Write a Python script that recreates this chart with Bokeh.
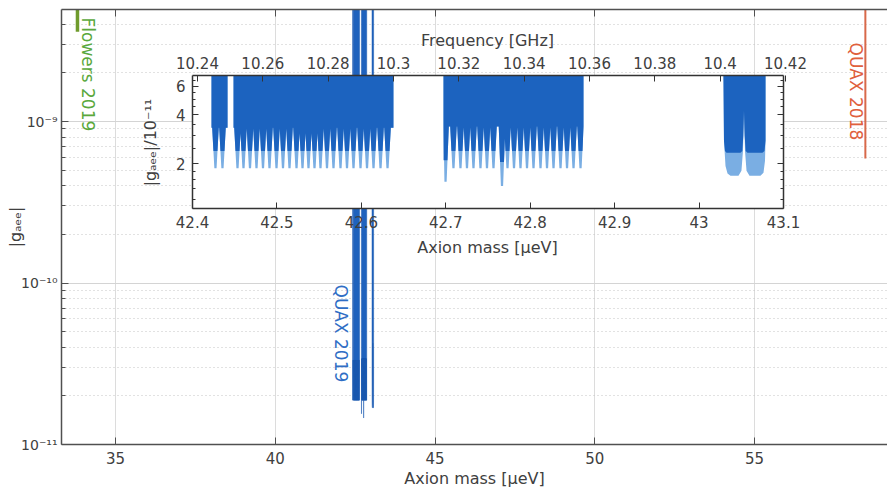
import math
from bokeh.plotting import figure
from bokeh.models import (Range1d, LinearScale, LogScale, LinearAxis, FixedTicker,
                          CustomJSTickFormatter, CustomLabelingPolicy, Label)
from bokeh.embed import file_html
from bokeh.resources import INLINE

# ------------------------------------------------------------------ data
x_ticks = [35, 40, 45, 50, 55]
y_ticks = [1e-11, 1e-10, 1e-9]
y_minor = [k * 10.0 ** e for e in (-11, -10, -9) for k in range(2, 10)]

inset_mass_ticks = [42.4, 42.5, 42.6, 42.7, 42.8, 42.9, 43.0, 43.1]
inset_freq_ticks = [10.24, 10.26, 10.28, 10.30, 10.32, 10.34, 10.36, 10.38, 10.40, 10.42]
inset_g_ticks = [2, 4, 6]
inset_g_minor = [1.2, 1.4, 1.6, 1.8, 2.5, 3, 3.5, 4.5, 5, 5.5, 6.5]
inset_mass_lim = (42.4, 43.1)
inset_g_lim = (1.06, 7.0)          # |g_aee| / 1e-11

flowers_mass = [33.81]
flowers_g = [3.6e-9]
quax18_mass = [58.47]
quax18_g = [5.9e-10]

# QUAX 2019 exclusion (|g_aee| in units of 1e-11), resonant bands A, B, C
band_lo = [42.4225, 42.4486, 42.6973]
band_hi = [42.4415, 42.6380, 42.8631]
band_plateau = [3.33, 3.33, 3.40]
spikes = [
    [42.4272, 42.4355],
    [42.4533, 42.4604, 42.4681, 42.4758, 42.4835, 42.4912, 42.4995, 42.5072,
     42.5149, 42.5232, 42.5303, 42.5374, 42.5445, 42.5516, 42.5593, 42.5670,
     42.5753, 42.5830, 42.5907, 42.5990, 42.6067, 42.6144, 42.6227, 42.6310],
    [42.6997, 42.7091, 42.7174, 42.7251, 42.7328, 42.7411, 42.7488, 42.7565,
     42.7666, 42.7731, 42.7808, 42.7885, 42.7962, 42.8039, 42.8122, 42.8199,
     42.8276, 42.8359, 42.8436, 42.8513, 42.8596],
]
spike_light = [
    [1.88, 1.88],
    [1.88, 1.88, 1.88, 1.88, 1.88, 1.88, 1.88, 1.88, 1.88, 1.88, 1.88, 1.88,
     1.88, 1.88, 1.88, 1.88, 1.88, 1.88, 1.88, 1.88, 1.88, 1.88, 1.88, 1.88],
    [1.55, 1.88, 1.88, 1.88, 1.88, 1.88, 1.88, 1.88, 1.46, 1.88, 1.88, 1.88,
     1.88, 1.88, 1.88, 1.88, 1.88, 1.88, 1.88, 1.88, 1.88],
]
spike_dark = [
    [2.40, 2.40],
    [2.40, 2.40, 2.40, 2.40, 2.40, 2.40, 2.40, 2.40, 2.40, 2.40, 2.40, 2.40,
     2.40, 2.40, 2.40, 2.40, 2.40, 2.40, 2.40, 2.40, 2.40, 2.40, 2.40, 2.40],
    [2.10, 2.40, 2.40, 2.40, 2.40, 2.40, 2.40, 2.40, 2.05, 2.40, 2.40, 2.40,
     2.40, 2.40, 2.40, 2.40, 2.40, 2.40, 2.40, 2.40, 2.40],
]
# band D (broad double dip)
bandD_mass_light = [43.0289, 43.0295, 43.0313, 43.0337, 43.0372, 43.0467, 43.0502, 43.0520,
                    43.0532, 43.0544, 43.0562, 43.0597, 43.0727, 43.0763, 43.0781, 43.0787]
bandD_g_light = [6.9, 2.77, 1.94, 1.74, 1.69, 1.69, 1.81, 2.40,
                 4.24, 2.40, 1.81, 1.69, 1.69, 1.76, 2.09, 2.77]
bandD_mass_dark = [43.0289, 43.0295, 43.0307, 43.0325, 43.0491, 43.0512, 43.0524, 43.0532,
                   43.0540, 43.0552, 43.0573, 43.0751, 43.0775, 43.0787]
bandD_g_dark = [6.9, 2.77, 2.40, 2.34, 2.34, 2.40, 2.98, 4.24,
                2.98, 2.40, 2.34, 2.34, 2.40, 2.77]

# ------------------------------------------------------------------ layout / styling
FONT = "DejaVu Sans"
TXT = "#404040"
AXC = "#505050"
DARK = "#1c63bf"
LIGHT = "#7aaee3"

W_PX, H_PX = 887, 492
FL, FR, FT, FB = 61, 887, 9, 444          # frame edges (px)
IL, IR, IT, IB = 192, 783, 75, 208        # inset frame edges (px)

# main axes calibration
x_per = (754 - 115) / (55 - 35)
x0 = 35 - (115 - FL) / x_per
x1 = 35 + (FR - 115) / x_per
y_per = (FB - 121) / 2.0
y0 = 1e-11
y1 = 1e-9 * 10 ** ((121 - FT) / y_per)

# inset axes calibration
m_per = (IR - IL) / (inset_mass_lim[1] - inset_mass_lim[0])
ix0 = inset_mass_lim[0] - (IL - FL) / m_per
ix1 = inset_mass_lim[0] + (FR - IL) / m_per
g_per = (IB - IT) / math.log10(inset_g_lim[1] / inset_g_lim[0])
iy0 = inset_g_lim[0] / 10 ** ((FB - IB) / g_per)
iy1 = inset_g_lim[1] * 10 ** ((IT - FT) / g_per)
f_per = (785 - 197) / (10.42 - 10.24)
fx0 = 10.24 - (197 - FL) / f_per
fx1 = 10.24 + (FR - 197) / f_per
f_bounds = (10.24 - (197 - IL) / f_per, 10.24 + (IR - 197) / f_per)


def mx(px):
    return x0 + (px - FL) / x_per


def my(py):
    return 10 ** (-11 + (FB - py) / y_per)


def ixp(px):
    return ix0 + (px - FL) / m_per


def iyp(py):
    return iy0 * 10 ** ((FB - py) / g_per)


p = figure(width=W_PX, height=H_PX, x_range=Range1d(x0, x1), y_range=Range1d(y0, y1),
           y_axis_type="log", output_backend="svg", toolbar_location=None,
           min_border_left=FL, min_border_right=W_PX - FR, min_border_top=FT,
           min_border_bottom=H_PX - FB, outline_line_color=None,
           background_fill_color="white", border_fill_color="white")

p.extra_x_ranges = {"ix": Range1d(ix0, ix1), "fx": Range1d(fx0, fx1)}
p.extra_x_scales = {"ix": LinearScale(), "fx": LinearScale()}
p.extra_y_ranges = {"iy": Range1d(iy0, iy1)}
p.extra_y_scales = {"iy": LogScale()}

no_labels = CustomLabelingPolicy(code="""
for (const i of indices) { indices.unset(i) }
return indices
""")

# main axes
xt = FixedTicker(ticks=x_ticks)
yt = FixedTicker(ticks=y_ticks, minor_ticks=[v for v in y_minor if v < y1])
sup_fmt = CustomJSTickFormatter(code="""
const sup = {"-":"\u207b","0":"\u2070","1":"\u00b9","2":"\u00b2","3":"\u00b3","4":"\u2074",
             "5":"\u2075","6":"\u2076","7":"\u2077","8":"\u2078","9":"\u2079"};
const e = Math.round(Math.log10(tick));
return "10" + String(e).split("").map(c => sup[c]).join("");
""")

for ax in list(p.xaxis) + list(p.yaxis):
    ax.major_label_text_font = FONT
    ax.major_label_text_color = TXT
    ax.axis_line_color = AXC
    ax.axis_line_width = 1.5
    ax.major_tick_line_color = AXC
    ax.minor_tick_line_color = AXC
    ax.major_tick_in = 7
    ax.major_tick_out = 0
    ax.minor_tick_in = 4
    ax.minor_tick_out = 0
    ax.axis_label_text_font = FONT
    ax.axis_label_text_font_size = "16px"
    ax.axis_label_text_font_style = "normal"
    ax.axis_label_text_color = TXT
    ax.axis_label_standoff = 2
for ax in p.xaxis:
    ax.ticker = xt
    ax.axis_label = "Axion mass [\u03bceV]"
    ax.major_label_text_font_size = "15px"
    ax.major_label_standoff = 7
for ax in p.yaxis:
    ax.ticker = yt
    ax.formatter = sup_fmt
    ax.axis_label = "|g\u2090\u2091\u2091|"
    ax.major_label_text_font_size = "14px"
    ax.major_label_standoff = 4
    ax.axis_label_standoff = -7

top_ax = LinearAxis(ticker=FixedTicker(ticks=x_ticks), major_label_policy=no_labels,
                    major_label_text_font_size="1px",
                    major_label_standoff=0, major_tick_in=7, major_tick_out=0,
                    minor_tick_in=0, minor_tick_out=0, axis_line_color=AXC,
                    axis_line_width=1.5, major_tick_line_color=AXC)
p.add_layout(top_ax, "above")

p.xgrid.ticker = xt
p.xgrid.grid_line_color = "#dcdcdc"
p.ygrid.ticker = yt
p.ygrid.grid_line_color = "#d4d4d4"
p.ygrid.minor_grid_line_color = "#c4c4c4"
p.ygrid.minor_grid_line_dash = "1 3"

# ------------------------------------------------------------------ exclusion shapes
HALF = 0.0039   # half of spike spacing (shape)
TIP = 0.0013    # half width of a spike tip


def band_outline(lo, hi, plateau, centers, tips, full_tips, top):
    lp = math.log10(plateau)
    xs, ys = [lo, lo], [top, plateau]
    for c, d, dref in zip(centers, tips, full_tips):
        frac = (lp - math.log10(d)) / (lp - math.log10(dref))
        w = HALF - (HALF - TIP) * frac
        xs += [max(c - HALF, lo), max(c - w, lo), min(c + w, hi), min(c + HALF, hi)]
        ys += [plateau, d, d, plateau]
    xs += [hi, hi]
    ys += [plateau, top]
    return xs, ys


def dip_outline(mass, g, top):
    return [mass[0]] + list(mass) + [mass[-1]], [top] + list(g) + [top]


def layer(kind, top, scale=1.0):
    xs_all, ys_all = [], []
    for i in range(len(band_lo)):
        tips = spike_light[i] if kind == "light" else spike_dark[i]
        xs, ys = band_outline(band_lo[i], band_hi[i], band_plateau[i], spikes[i],
                              tips, spike_light[i], top)
        xs_all.append(xs)
        ys_all.append([v * scale for v in ys])
    if kind == "light":
        xs, ys = dip_outline(bandD_mass_light, bandD_g_light, top)
    else:
        xs, ys = dip_outline(bandD_mass_dark, bandD_g_dark, top)
    xs_all.append(xs)
    ys_all.append([v * scale for v in ys])
    return xs_all, ys_all


# main-scale QUAX 2019 bars
mxs, mys = layer("light", top=y1 * 1e11 * 3, scale=1e-11)
p.patches(xs=mxs, ys=mys, fill_color="#1f62bd", line_color="#1d5ab0", line_width=0.5)

# other limits
p.segment(x0=flowers_mass, y0=flowers_g, x1=flowers_mass, y1=[y1 * 3] * len(flowers_mass),
          line_color="#6f9b2c", line_width=3.5)
p.segment(x0=quax18_mass, y0=quax18_g, x1=quax18_mass, y1=[y1 * 3] * len(quax18_mass),
          line_color="#d8694a", line_width=2)

# inset background
p.quad(left=[inset_mass_lim[0]], right=[inset_mass_lim[1]], bottom=[inset_g_lim[0]],
       top=[inset_g_lim[1]], x_range_name="ix", y_range_name="iy",
       fill_color="white", line_color=None)

lxs, lys = layer("light", top=inset_g_lim[1])
p.patches(xs=lxs, ys=lys, x_range_name="ix", y_range_name="iy",
          fill_color=LIGHT, line_color=None)
dxs, dys = layer("dark", top=inset_g_lim[1])
p.patches(xs=dxs, ys=dys, x_range_name="ix", y_range_name="iy",
          fill_color=DARK, line_color=None)

# inset axes
num_fmt = CustomJSTickFormatter(code="return String(parseFloat(tick.toFixed(3)));")


def style_inset(ax, labels=True):
    ax.major_label_text_font = FONT
    ax.major_label_text_font_size = "15px" if labels else "1px"
    ax.major_label_text_color = TXT
    ax.major_label_standoff = 7 if labels else 0
    if not labels:
        ax.major_label_policy = no_labels
    ax.axis_line_color = "#333333"
    ax.axis_line_width = 1.5
    ax.major_tick_line_color = "#333333"
    ax.minor_tick_line_color = "#333333"
    ax.major_tick_in = 6
    ax.major_tick_out = 0
    ax.minor_tick_in = 3
    ax.minor_tick_out = 0


ib = LinearAxis(x_range_name="ix", y_range_name="iy", fixed_location=inset_g_lim[0],
                bounds=inset_mass_lim, ticker=FixedTicker(ticks=inset_mass_ticks),
                formatter=num_fmt)
style_inset(ib)
p.add_layout(ib, "below")

itp = LinearAxis(x_range_name="fx", y_range_name="iy", fixed_location=inset_g_lim[1],
                 bounds=f_bounds, ticker=FixedTicker(ticks=inset_freq_ticks),
                 formatter=num_fmt)
style_inset(itp)
p.add_layout(itp, "above")

il = LinearAxis(x_range_name="ix", y_range_name="iy", fixed_location=inset_mass_lim[0],
                bounds=inset_g_lim,
                ticker=FixedTicker(ticks=inset_g_ticks, minor_ticks=inset_g_minor),
                formatter=num_fmt)
style_inset(il)
p.add_layout(il, "left")

ir = LinearAxis(x_range_name="ix", y_range_name="iy", fixed_location=inset_mass_lim[1],
                bounds=inset_g_lim,
                ticker=FixedTicker(ticks=inset_g_ticks, minor_ticks=inset_g_minor),
                formatter=num_fmt)
style_inset(ir, labels=False)
p.add_layout(ir, "right")

# ------------------------------------------------------------------ text annotations
def add_label(x, y, text, color=TXT, size="16px", angle=0.0, align="center",
              xr="default", yr="default"):
    p.add_layout(Label(x=x, y=y, text=text, angle=angle, text_align=align,
                       text_baseline="middle", text_font=FONT, text_font_size=size,
                       text_color=color, x_range_name=xr, y_range_name=yr))


add_label(mx(87), my(17), "Flowers 2019", color="#5aa83c", size="17px",
          angle=-math.pi / 2, align="left")
add_label(mx(855), my(42), "QUAX 2018", color="#e0603c", size="17px",
          angle=-math.pi / 2, align="left")
add_label(mx(340), my(284), "QUAX 2019", color="#2f6ec5", size="17px",
          angle=-math.pi / 2, align="left")

add_label(ixp(487), iyp(40), "Frequency [GHz]", xr="ix", yr="iy")
add_label(ixp(487), iyp(247), "Axion mass [\u03bceV]", xr="ix", yr="iy")
add_label(ixp(150), iyp(142), "|g\u2090\u2091\u2091|/10\u207b\u00b9\u00b9",
          angle=math.pi / 2, xr="ix", yr="iy")

open("out.html", "w").write(file_html(p, INLINE))
